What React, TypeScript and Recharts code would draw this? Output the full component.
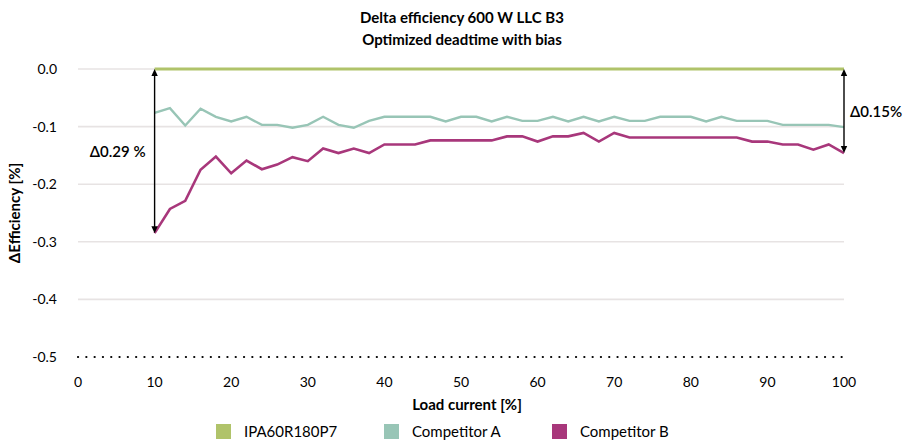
import React from 'react';
import { LineChart, Line, XAxis, YAxis, ReferenceLine, Legend } from 'recharts';

// ---- data ----
const loadCurrent = [
  10, 12, 14, 16, 18, 20, 22, 24, 26, 28, 30, 32, 34, 36, 38, 40, 42, 44, 46, 48, 50, 52, 54,
  56, 58, 60, 62, 64, 66, 68, 70, 72, 74, 76, 78, 80, 82, 84, 86, 88, 90, 92, 94, 96, 98, 100,
];
const ipa60r180p7 = [
  0, 0, 0, 0, 0, 0, 0, 0, 0, 0, 0, 0, 0, 0, 0, 0, 0, 0, 0, 0, 0, 0, 0,
  0, 0, 0, 0, 0, 0, 0, 0, 0, 0, 0, 0, 0, 0, 0, 0, 0, 0, 0, 0, 0, 0, 0,
];
const competitorA = [
  -0.076, -0.068, -0.098, -0.069, -0.083, -0.091, -0.083, -0.097, -0.097, -0.102, -0.097, -0.083,
  -0.097, -0.102, -0.09, -0.083, -0.083, -0.083, -0.083, -0.091, -0.083, -0.083, -0.091, -0.083,
  -0.09, -0.09, -0.083, -0.091, -0.083, -0.091, -0.083, -0.09, -0.09, -0.083, -0.083, -0.083,
  -0.091, -0.083, -0.09, -0.09, -0.09, -0.097, -0.097, -0.097, -0.097, -0.101,
];
const competitorB = [
  -0.285, -0.243, -0.229, -0.175, -0.152, -0.181, -0.159, -0.174, -0.166, -0.153, -0.16, -0.138,
  -0.146, -0.138, -0.146, -0.131, -0.131, -0.131, -0.124, -0.124, -0.124, -0.124, -0.124, -0.117,
  -0.117, -0.126, -0.117, -0.117, -0.111, -0.126, -0.111, -0.119, -0.119, -0.119, -0.119, -0.119,
  -0.119, -0.119, -0.119, -0.126, -0.126, -0.131, -0.131, -0.14, -0.131, -0.146,
];
const xTicks = [0, 10, 20, 30, 40, 50, 60, 70, 80, 90, 100];
const yTicks = [0, -0.1, -0.2, -0.3, -0.4, -0.5];
const gridValues = [0, -0.1, -0.2, -0.3, -0.4];
const seriesNames = ['IPA60R180P7', 'Competitor A', 'Competitor B'];
const seriesColors = ['#b0c36a', '#98c5b6', '#a8377b'];
const deltaLabels = ['\u03940.29 %', '\u03940.15%'];
const titleLines = ['Delta efficiency 600 W LLC B3', 'Optimized deadtime with bias'];

const tableData = loadCurrent.map((x, i) => ({
  x,
  ipa: ipa60r180p7[i],
  compA: competitorA[i],
  compB: competitorB[i],
}));

const FONT = 'Lato, "Noto Sans", sans-serif';

const makeArrow = (label: string, side: 'left' | 'right') => (props: any) => {
  const { x1, y1, x2, y2 } = props;
  const x = x1;
  const top = Math.min(y1, y2);
  const bot = Math.max(y1, y2);
  const ah = 7;
  const aw = 3.2;
  const mid = (top + bot) / 2;
  return (
    <g>
      <line x1={x} y1={top + ah - 1} x2={x2} y2={bot - ah + 1} stroke="#000" strokeWidth={1.4} />
      <polygon points={`${x},${top} ${x - aw},${top + ah} ${x + aw},${top + ah}`} fill="#000" />
      <polygon points={`${x},${bot} ${x - aw},${bot - ah} ${x + aw},${bot - ah}`} fill="#000" />
      <text
        x={side === 'left' ? x - 9 : x + 6}
        y={mid}
        textAnchor={side === 'left' ? 'end' : 'start'}
        dominantBaseline="central"
        fontFamily={FONT}
        fontSize={15}
        fontWeight={600}
        fill="#000"
      >
        {label}
      </text>
    </g>
  );
};

const renderLegend = () => (
  <div style={{ display: 'flex', fontFamily: FONT, fontSize: 15, color: '#000' }}>
    {seriesNames.map((n, i) => (
      <div key={n} style={{ display: 'flex', alignItems: 'center', width: 168 }}>
        <span style={{ display: 'inline-block', width: 15, height: 15, background: seriesColors[i], marginRight: 13 }} />
        <span style={{ lineHeight: '15px' }}>{n}</span>
      </div>
    ))}
  </div>
);

export default function App() {
  const last = loadCurrent.length - 1;
  return (
    <div style={{ position: 'absolute', left: 0, top: 0, width: 903, height: 441, background: '#fff', fontFamily: FONT }}>
      <div
        style={{
          position: 'absolute',
          left: 62,
          width: 800,
          top: 6,
          textAlign: 'center',
          fontWeight: 700,
          fontSize: 15,
          lineHeight: '22px',
          color: '#000',
        }}
      >
        {titleLines.map((t) => (
          <div key={t}>{t}</div>
        ))}
      </div>
      <LineChart
        width={903}
        height={441}
        data={tableData}
        margin={{ top: 69, right: 59, left: 0, bottom: 24 }}
        style={{ position: 'absolute', left: 0, top: 0 }}
      >
        {gridValues.map((v) => (
          <ReferenceLine key={v} y={v} stroke="#e7e3e3" strokeWidth={1.6} ifOverflow="extendDomain" />
        ))}
        <XAxis
          dataKey="x"
          type="number"
          domain={[0, 100]}
          ticks={xTicks}
          interval={0}
          tickLine={false}
          tickMargin={14}
          height={60}
          axisLine={{ stroke: '#000', strokeWidth: 2.2, strokeDasharray: '0.1 8.2', strokeLinecap: 'round' }}
          tick={{ fill: '#000', fontSize: 14, fontFamily: FONT }}
          label={{
            content: (p: any) => {
              const vb = p.viewBox || { x: 78, y: 357, width: 766, height: 60 };
              return (
                <text
                  x={vb.x + vb.width / 2 + 6}
                  y={vb.y + 53}
                  textAnchor="middle"
                  fontFamily={FONT}
                  fontSize={15}
                  fontWeight={700}
                  fill="#000"
                >
                  Load current [%]
                </text>
              );
            },
          }}
        />
        <YAxis
          type="number"
          domain={[-0.5, 0]}
          ticks={yTicks}
          interval={0}
          width={78}
          tickLine={false}
          axisLine={false}
          tickMargin={15}
          tickFormatter={(v: number) => v.toFixed(1)}
          tick={{ fill: '#000', fontSize: 14, fontFamily: FONT }}
          label={{
            content: (p: any) => {
              const vb = p.viewBox || { x: 0, y: 69, width: 78, height: 288 };
              const cx = 14;
              const cy = vb.y + vb.height / 2;
              return (
                <text
                  x={cx}
                  y={cy}
                  transform={`rotate(-90 ${cx} ${cy})`}
                  textAnchor="middle"
                  dominantBaseline="central"
                  fontFamily={FONT}
                  fontSize={15}
                  fontWeight={700}
                  fill="#000"
                >
                  {'\u0394Efficiency [%]'}
                </text>
              );
            },
          }}
        />
        <Line dataKey="compB" name={seriesNames[2]} stroke={seriesColors[2]} strokeWidth={2.6} dot={false} isAnimationActive={false} />
        <Line dataKey="compA" name={seriesNames[1]} stroke={seriesColors[1]} strokeWidth={2.4} dot={false} isAnimationActive={false} />
        <Line dataKey="ipa" name={seriesNames[0]} stroke={seriesColors[0]} strokeWidth={2.8} dot={false} isAnimationActive={false} />
        <ReferenceLine
          segment={[
            { x: loadCurrent[0], y: ipa60r180p7[0] },
            { x: loadCurrent[0], y: competitorB[0] },
          ]}
          shape={makeArrow(deltaLabels[0], 'left')}
        />
        <ReferenceLine
          segment={[
            { x: loadCurrent[last], y: ipa60r180p7[last] },
            { x: loadCurrent[last], y: competitorB[last] },
          ]}
          shape={makeArrow(deltaLabels[1], 'right')}
        />
        <Legend
          layout="horizontal"
          verticalAlign="middle"
          align="center"
          content={renderLegend}
          wrapperStyle={{ top: 424, left: 216, width: 520, height: 16 }}
        />
      </LineChart>
    </div>
  );
}
